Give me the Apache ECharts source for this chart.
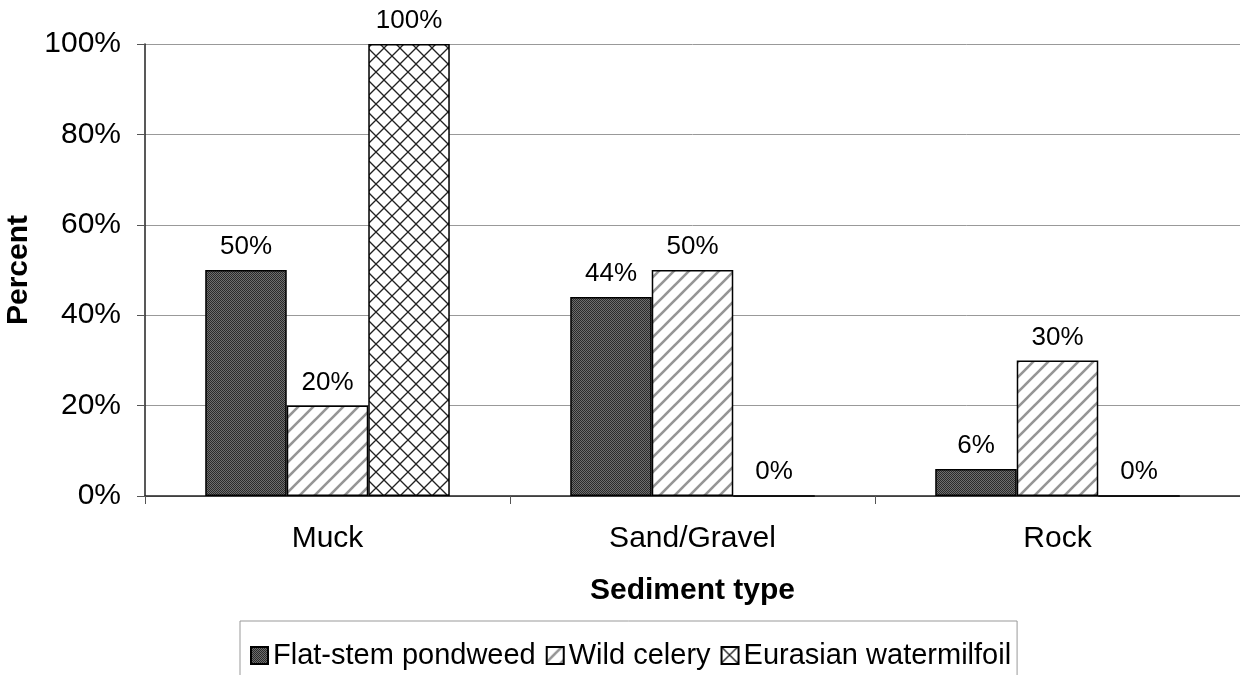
<!DOCTYPE html>
<html>
<head>
<meta charset="utf-8">
<script src="https://cdn.jsdelivr.net/npm/echarts@6/dist/echarts.min.js"></script>
<style>
  html, body { margin: 0; padding: 0; background: #fff; }
  #chart { width: 1240px; height: 675px; }
</style>
</head>
<body>
<div id="chart"></div>
<script>
const categories = ["Muck", "Sand/Gravel", "Rock"];
const seriesNames = ["Flat-stem pondweed", "Wild celery", "Eurasian watermilfoil"];
const flatStem = [50, 44, 6];
const wildCelery = [20, 50, 30];
const watermilfoil = [100, 0, 0];
const yTicks = [0, 20, 40, 60, 80, 100];

// fill patterns (dots / stripes / cross hatch)
function dotPattern() {
  const c = document.createElement("canvas");
  c.width = 2; c.height = 2;
  const ctx = c.getContext("2d");
  ctx.fillStyle = "#6e6e6e";
  ctx.fillRect(0, 0, 2, 2);
  ctx.fillStyle = "#2a2a2a";
  ctx.fillRect(0, 0, 1, 1);
  ctx.fillRect(1, 1, 1, 1);
  return c;
}
function stripePattern() {
  const s = 15;
  const c = document.createElement("canvas");
  c.width = s; c.height = s;
  const ctx = c.getContext("2d");
  ctx.fillStyle = "#fff";
  ctx.fillRect(0, 0, s, s);
  ctx.strokeStyle = "#959595";
  ctx.lineWidth = 2.6;
  [[0, s, s, 0], [-s / 2, s / 2, s / 2, -s / 2], [s / 2, s * 1.5, s * 1.5, s / 2]].forEach(l => {
    ctx.beginPath(); ctx.moveTo(l[0], l[1]); ctx.lineTo(l[2], l[3]); ctx.stroke();
  });
  return c;
}
function hatchPattern() {
  const s = 16;
  const c = document.createElement("canvas");
  c.width = s; c.height = s;
  const ctx = c.getContext("2d");
  ctx.fillStyle = "#fff";
  ctx.fillRect(0, 0, s, s);
  ctx.strokeStyle = "#222";
  ctx.lineWidth = 1.3;
  ctx.beginPath(); ctx.moveTo(0, 0); ctx.lineTo(s, s); ctx.stroke();
  ctx.beginPath(); ctx.moveTo(0, s); ctx.lineTo(s, 0); ctx.stroke();
  return c;
}

const font = "Liberation Sans";
const fills = [dotPattern(), stripePattern(), hatchPattern()];
const values = [flatStem, wildCelery, watermilfoil];

const chart = echarts.init(document.getElementById("chart"));
chart.setOption({
  animation: false,
  textStyle: { fontFamily: font, color: "#000" },
  grid: { left: 145, top: 44, right: 0, bottom: 179, outerBoundsMode: "none" },
  legend: {
    left: 240,
    top: 621,
    padding: [20, 6, 30, 10],
    borderColor: "#999",
    borderWidth: 1,
    itemWidth: 17,
    itemHeight: 17,
    itemGap: 10,
    icon: "rect",
    textStyle: { fontFamily: font, fontSize: 29, color: "#000" },
    data: seriesNames,
  },
  xAxis: {
    type: "category",
    data: categories,
    name: "Sediment type",
    nameLocation: "middle",
    nameGap: 80,
    nameTextStyle: { fontFamily: font, fontSize: 30, fontWeight: "bold", color: "#000" },
    axisLine: { lineStyle: { color: "#222", width: 1.5 } },
    axisTick: { show: true, length: 8, lineStyle: { color: "#555" } },
    axisLabel: { fontFamily: font, fontSize: 30, color: "#000", margin: 28 },
  },
  yAxis: {
    type: "value",
    min: 0,
    max: 100,
    interval: 20,
    name: "Percent",
    nameLocation: "middle",
    nameGap: 104,
    nameTextStyle: { fontFamily: font, fontSize: 30, fontWeight: "bold", color: "#000" },
    axisLine: { show: true, lineStyle: { color: "#222", width: 1.5 } },
    axisTick: { show: true, length: 8, lineStyle: { color: "#555" } },
    axisLabel: {
      fontFamily: font,
      fontSize: 30,
      color: "#000",
      margin: 24,
      formatter: v => (yTicks.includes(v) ? v + "%" : ""),
    },
    splitLine: { lineStyle: { color: "#999", width: 1 } },
  },
  series: seriesNames.map((name, i) => ({
    name: name,
    type: "bar",
    data: values[i],
    barGap: "0%",
    barCategoryGap: "33%",
    itemStyle: {
      color: { image: fills[i], repeat: "repeat" },
      borderColor: "#000",
      borderWidth: 1.5,
    },
    label: {
      show: true,
      position: "top",
      distance: 10,
      fontFamily: font,
      fontSize: 26,
      color: "#000",
      formatter: p => p.value + "%",
    },
  })),
});
</script>
</body>
</html>
